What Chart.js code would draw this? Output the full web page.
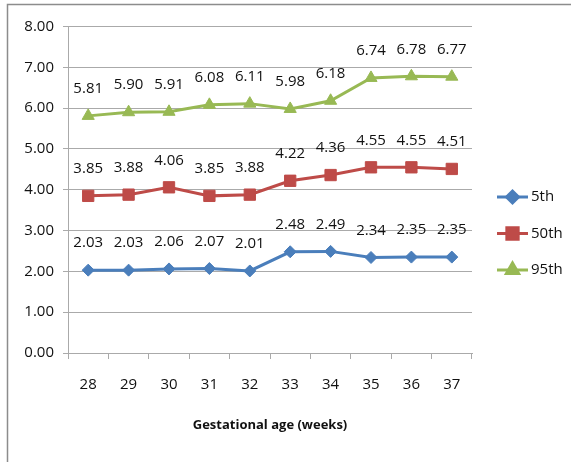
<!DOCTYPE html>
<html>
<head>
<meta charset="utf-8">
<script src="https://cdn.jsdelivr.net/npm/chart.js@4/dist/chart.umd.min.js"></script>
<style>
  html, body { margin: 0; padding: 0; background: #fff; }
  #wrap { width: 571px; height: 462px; position: relative; }
</style>
</head>
<body>
<div id="wrap"><canvas id="c" width="571" height="462"></canvas></div>
<script>
// Gestational age categories (weeks)
const weeks = ['28', '29', '30', '31', '32', '33', '34', '35', '36', '37'];

// Percentile series
const p5  = [2.03, 2.03, 2.06, 2.07, 2.01, 2.48, 2.49, 2.34, 2.35, 2.35];
const p50 = [3.85, 3.88, 4.06, 3.85, 3.88, 4.22, 4.36, 4.55, 4.55, 4.51];
const p95 = [5.81, 5.90, 5.91, 6.08, 6.11, 5.98, 6.18, 6.74, 6.78, 6.77];

const seriesNames = ['5th', '50th', '95th'];

// Y axis range and step
const yMin = 0, yMax = 8, yStep = 1;

const FONT = '"Open Sans", "Liberation Sans", sans-serif';
const TEXT = '#111111';
const GRID = '#aaaaaa';

function makeSet(label, data, color, style, radius) {
  return {
    label, data,
    borderColor: color,
    backgroundColor: color,
    borderWidth: 3,
    pointStyle: style,
    pointRadius: radius,
    pointHoverRadius: radius,
    pointBorderWidth: 1,
    pointBorderColor: color,
    pointBackgroundColor: color,
    tension: 0
  };
}

// Outer frame around the chart
const framePlugin = {
  id: 'frame',
  beforeDraw(chart) {
    const ctx = chart.ctx;
    ctx.save();
    ctx.fillStyle = '#fff';
    ctx.fillRect(0, 0, chart.width, chart.height);
    ctx.strokeStyle = '#8c8c8c';
    ctx.lineWidth = 1.5;
    ctx.beginPath();
    ctx.moveTo(7.5, chart.height);
    ctx.lineTo(7.5, 4.5);
    ctx.lineTo(chart.width, 4.5);
    ctx.stroke();
    ctx.restore();
  }
};

// Value labels above each point
const valueLabels = {
  id: 'valueLabels',
  afterDatasetsDraw(chart) {
    const ctx = chart.ctx;
    ctx.save();
    ctx.font = '15px ' + FONT;
    ctx.fillStyle = TEXT;
    ctx.textAlign = 'center';
    ctx.textBaseline = 'middle';
    chart.data.datasets.forEach((ds, i) => {
      const meta = chart.getDatasetMeta(i);
      meta.data.forEach((pt, j) => {
        ctx.fillText(ds.data[j].toFixed(2), pt.x, pt.y - 27);
      });
    });
    ctx.restore();
  }
};

// Legend on the right: line segment with marker, then series name
const sideLegend = {
  id: 'sideLegend',
  afterDraw(chart) {
    const ctx = chart.ctx;
    const x0 = 497, x1 = 528, ys = [197, 233.5, 270];
    ctx.save();
    chart.data.datasets.forEach((ds, i) => {
      const y = ys[i];
      ctx.strokeStyle = ds.borderColor;
      ctx.lineWidth = 3;
      ctx.beginPath();
      ctx.moveTo(x0, y);
      ctx.lineTo(x1, y);
      ctx.stroke();
      Chart.helpers.drawPoint(ctx, {
        pointStyle: ds.pointStyle,
        radius: ds.pointRadius,
        rotation: 0,
        borderWidth: 1
      }, (x0 + x1) / 2, y);
      ctx.fillStyle = ds.borderColor;
      ctx.strokeStyle = ds.borderColor;
      ctx.fill();
      ctx.fillStyle = TEXT;
      ctx.font = '15px ' + FONT;
      ctx.textAlign = 'left';
      ctx.textBaseline = 'middle';
      ctx.fillText(ds.label, x1 + 3, y);
    });
    ctx.restore();
  }
};

new Chart(document.getElementById('c'), {
  type: 'line',
  data: {
    labels: weeks,
    datasets: [
      makeSet(seriesNames[0], p5,  '#4a7ebb', 'rectRot', 6),
      makeSet(seriesNames[1], p50, '#be4b48', 'rect', 8),
      makeSet(seriesNames[2], p95, '#98b954', 'triangle', 7)
    ]
  },
  options: {
    responsive: false,
    animation: false,
    devicePixelRatio: 1,
    layout: { padding: { left: 8, top: 26.5, right: 99, bottom: 0 } },
    plugins: {
      legend: { display: false },
      tooltip: { enabled: false }
    },
    scales: {
      x: {
        offset: true,
        grid: {
          offset: true,
          drawOnChartArea: false,
          drawTicks: true,
          tickLength: 6,
          color: GRID
        },
        border: { color: GRID, width: 1 },
        ticks: { color: TEXT, font: { family: FONT, size: 15 }, padding: 17, maxRotation: 0 },
        title: {
          display: true,
          text: 'Gestational age (weeks)',
          color: TEXT,
          font: { family: FONT, size: 13, weight: 'bold' },
          padding: { top: 0, bottom: 29 }
        },
        afterFit(scale) { scale.height = 109; }
      },
      y: {
        min: yMin,
        max: yMax,
        grid: { color: GRID, tickLength: 5 },
        border: { color: GRID, width: 1 },
        ticks: {
          stepSize: yStep,
          color: TEXT,
          font: { family: FONT, size: 15 },
          padding: 9,
          callback: v => v.toFixed(2)
        },
        afterFit(scale) { scale.width = 60; }
      }
    }
  },
  plugins: [framePlugin, valueLabels, sideLegend]
});
</script>
</body>
</html>
